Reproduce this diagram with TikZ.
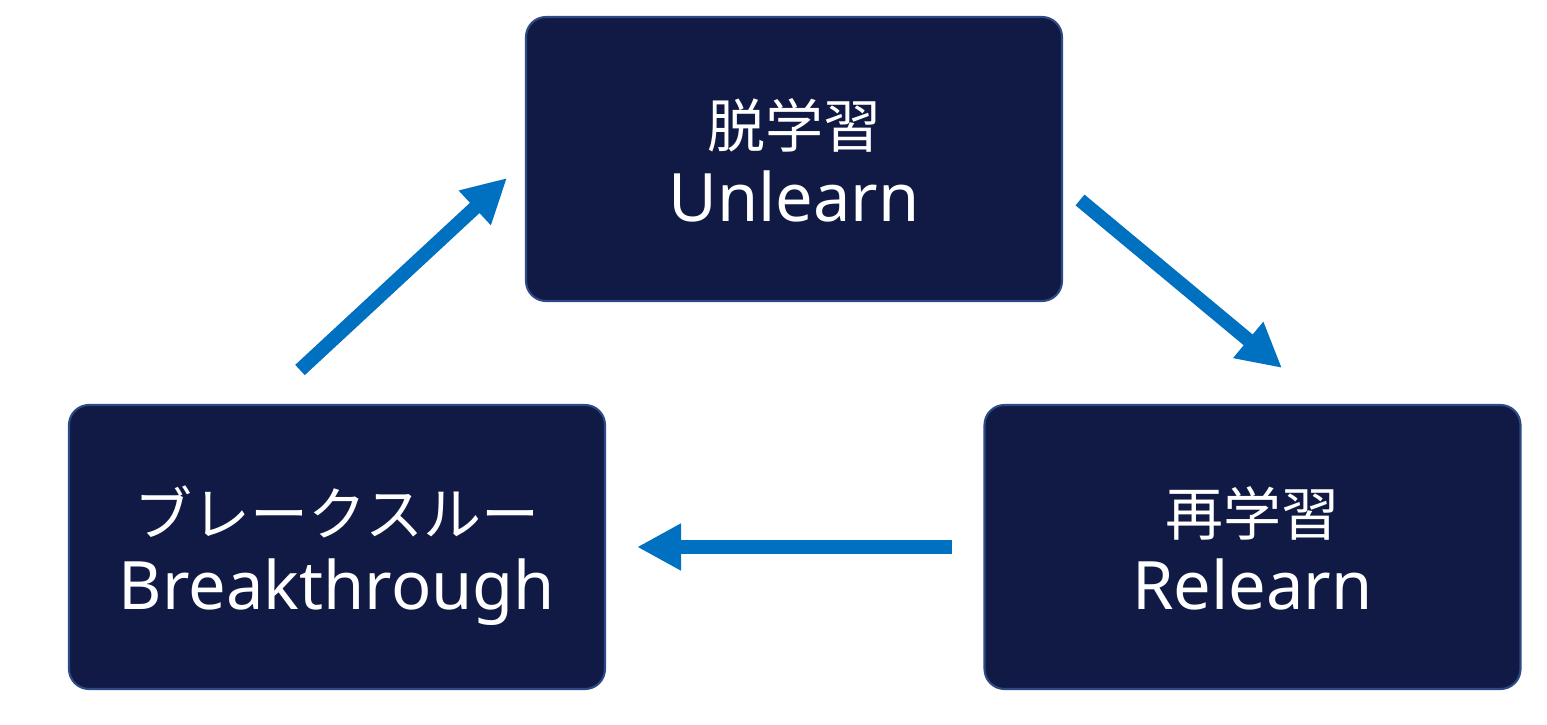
\documentclass[tikz,border=0pt]{standalone}
\usepackage{fontspec}
\setmainfont{Noto Sans}
\newfontfamily\jpfont{Noto Sans CJK JP}
\usetikzlibrary{arrows.meta,positioning}
\definecolor{boxNavy}{HTML}{111A44}
\definecolor{boxEdge}{HTML}{2E4A86}
\definecolor{flowBlue}{HTML}{0070C0}
\newcommand{\stagetext}[2]{{\jpfont\fontsize{16.5}{20}\selectfont\rule{0pt}{19pt}#1}\\#2\vphantom{g}}

\begin{document}
\begin{tikzpicture}[font=\fontsize{19}{21}\selectfont,
  stage/.style={rectangle,rounded corners=0.2cm,draw=boxEdge,line width=0.6pt,
    fill=boxNavy,text=white,minimum width=5.36cm,minimum height=2.84cm,
    align=center,inner sep=0pt},
  flow/.style={flowBlue,line width=0.14cm,-{Triangle[length=0.44cm,width=0.44cm]}}]
\useasboundingbox (0,0) rectangle (15.47,-7.25);
% --- the three stages ---
\node[stage] (un) at (7.94,-1.59) {\stagetext{脱学習}{Unlearn}};
\node[stage] (bt) at (3.37,-5.47) {\stagetext{ブレークスルー}{Breakthrough}};
\node[stage] (re) at (12.525,-5.47) {\stagetext{再学習}{Relearn}};
% --- free ends of the diagonal arrows ---
\coordinate (bt-out) at (3.00,-3.70);
\coordinate (un-in) at (5.07,-1.78);
\coordinate (un-out) at (10.80,-2.00);
\coordinate (re-in) at (12.82,-3.68);
% --- cycle ---
\draw[flow] (bt-out) -- (un-in);
\draw[flow] (un-out) -- (re-in);
\draw[flow,shorten <=0.31cm,shorten >=0.31cm] (re.west) -- (bt.east);
\end{tikzpicture}
\end{document}
